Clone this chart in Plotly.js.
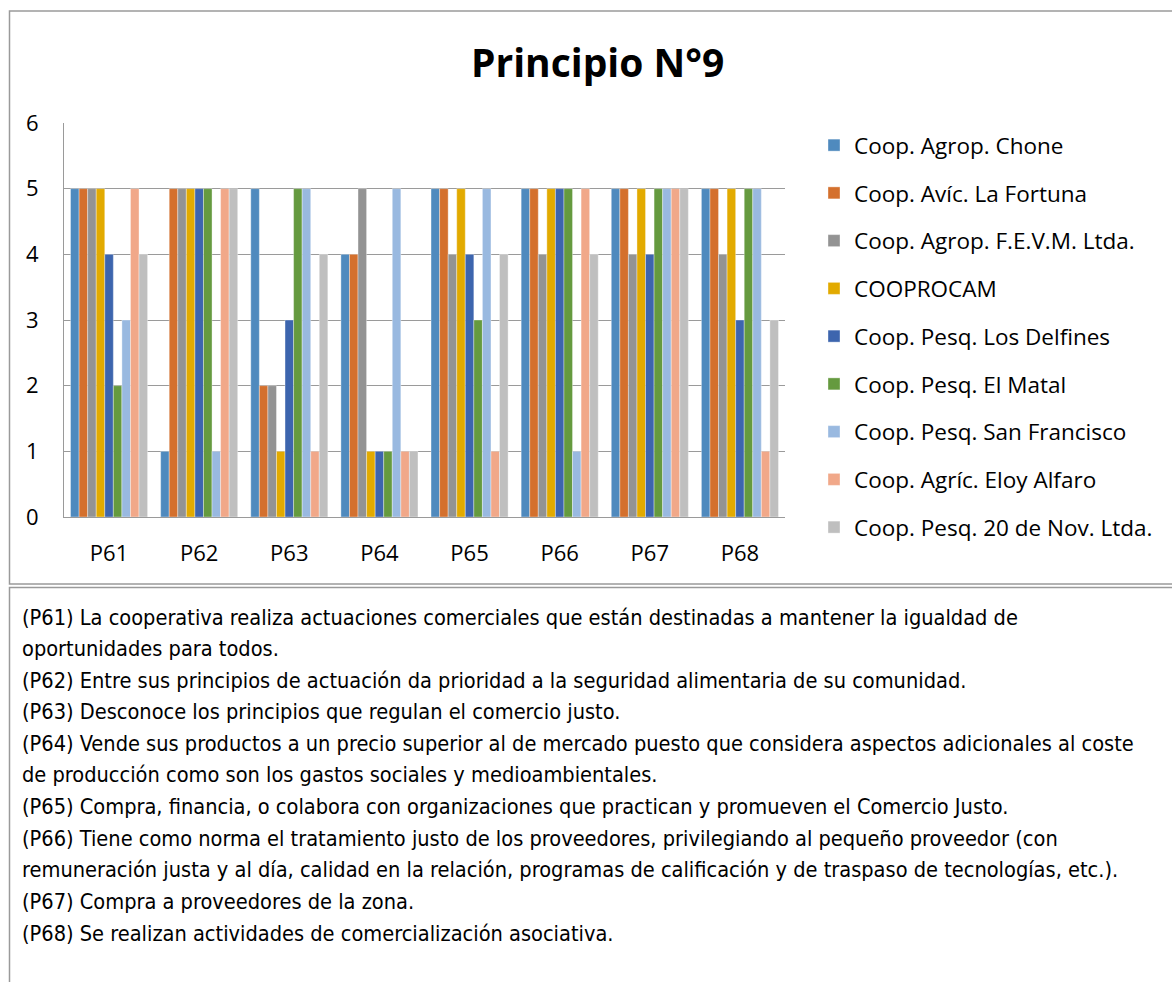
<!DOCTYPE html>
<html>
<head>
<meta charset="utf-8">
<script src="https://cdn.plot.ly/plotly-3.0.1.min.js"></script>
<style>
html,body{margin:0;padding:0;background:#fff;}
#chart{width:1172px;height:982px;}
</style>
</head>
<body>
<div id="chart"></div>
<script>
const categories = ["P61","P62","P63","P64","P65","P66","P67","P68"];
const seriesNames = [
  "Coop. Agrop. Chone",
  "Coop. Avíc. La Fortuna",
  "Coop. Agrop. F.E.V.M. Ltda.",
  "COOPROCAM",
  "Coop. Pesq. Los Delfines",
  "Coop. Pesq. El Matal",
  "Coop. Pesq. San Francisco",
  "Coop. Agríc. Eloy Alfaro",
  "Coop. Pesq. 20 de Nov. Ltda."
];
const chone      = [5,1,5,4,5,5,5,5];
const fortuna    = [5,5,2,4,5,5,5,5];
const fevm       = [5,5,2,5,4,4,4,4];
const cooprocam  = [5,5,1,1,5,5,5,5];
const delfines   = [4,5,3,1,4,5,4,3];
const matal      = [2,5,5,1,3,5,5,5];
const sanfran    = [3,1,5,5,5,1,5,5];
const eloy       = [5,5,1,1,1,5,5,1];
const nov20      = [4,5,4,1,4,4,5,3];
const seriesValues = [chone,fortuna,fevm,cooprocam,delfines,matal,sanfran,eloy,nov20];
const colors = ["#4f8abe","#d4702d","#939393","#e2aa00","#3d65ae","#659a3f","#99b9e0","#f1a889","#bfbfbf"];

const notes = [
  "(P61) La cooperativa realiza actuaciones comerciales que están destinadas a mantener la igualdad de",
  "oportunidades para todos.",
  "(P62) Entre sus principios de actuación da prioridad a la seguridad alimentaria de su comunidad.",
  "(P63) Desconoce los principios que regulan el comercio justo.",
  "(P64) Vende sus productos a un precio superior al de mercado puesto que considera aspectos adicionales al coste",
  "de producción como son los gastos sociales y medioambientales.",
  "(P65) Compra, financia, o colabora con organizaciones que practican y promueven el Comercio Justo.",
  "(P66) Tiene como norma el tratamiento justo de los proveedores, privilegiando al pequeño proveedor (con",
  "remuneración justa y al día, calidad en la relación, programas de calificación y de traspaso de tecnologías, etc.).",
  "(P67) Compra a proveedores de la zona.",
  "(P68) Se realizan actividades de comercialización asociativa."
];

// layout geometry (pixels)
const W = 1172, H = 982;
const L = 64, R = 785, T = 123, B = 517;
const px = x => (x - L) / (R - L);
const py = y => (B - y) / (B - T);

const traces = seriesNames.map((n, i) => ({
  type: "bar",
  name: n,
  x: categories,
  y: seriesValues[i],
  legendgroup: "g" + i,
  marker: {color: colors[i], line: {color: "rgba(255,255,255,0.6)", width: 0.6}},
  hoverinfo: "x+y+name"
}));

const annotations = [
  {text: "<b>Principio N°9</b>", xref: "paper", yref: "paper", x: px(597), y: py(62),
   xanchor: "center", yanchor: "middle", showarrow: false,
   font: {family: "Open Sans, sans-serif", size: 39, color: "#000"}}
];
const lineY0 = 617, lineStep = 31.6;
notes.forEach((t, i) => {
  annotations.push({
    text: t, xref: "paper", yref: "paper", x: px(20), y: py(lineY0 + i * lineStep),
    xanchor: "left", yanchor: "middle", showarrow: false, align: "left",
    font: {family: "DejaVu Sans Condensed, sans-serif", size: 21.6, color: "#000"}
  });
});

const shapes = [
  {type: "rect", xref: "paper", yref: "paper", x0: px(9.5), x1: px(1190), y0: py(11), y1: py(584),
   line: {color: "#9a9a9a", width: 1.5}},
  {type: "rect", xref: "paper", yref: "paper", x0: px(9.5), x1: px(1190), y0: py(587.5), y1: py(1000),
   line: {color: "#9a9a9a", width: 1.5}}
];

const layout = {
  width: W, height: H,
  margin: {l: L, r: W - R, t: T, b: H - B, pad: 0},
  paper_bgcolor: "#fff", plot_bgcolor: "#fff",
  barmode: "group", bargap: 0.145, bargroupgap: 0,
  font: {family: "Open Sans, sans-serif", color: "#000"},
  xaxis: {
    type: "category", showgrid: false, zeroline: false,
    showline: true, linecolor: "#9a9a9a", linewidth: 1, mirror: false,
    ticks: "", tickfont: {size: 22, family: "Open Sans, sans-serif"},
    ticklabelstandoff: 17
  },
  yaxis: {
    range: [0, 6], dtick: 1, showgrid: true, gridcolor: "#9a9a9a", gridwidth: 1,
    zeroline: false, showline: true, linecolor: "#9a9a9a", linewidth: 1,
    ticks: "", tickfont: {size: 22, family: "Open Sans, sans-serif"},
    ticklabelstandoff: 20, fixedrange: true
  },
  showlegend: true,
  legend: {
    x: px(814), y: py(124), xanchor: "left", yanchor: "top",
    traceorder: "grouped", tracegroupgap: 15.5, maxheight: 900,
    font: {size: 22.5, family: "Open Sans, sans-serif", color: "#000"},
    bgcolor: "rgba(0,0,0,0)", borderwidth: 0
  },
  annotations: annotations,
  shapes: shapes
};

Plotly.newPlot("chart", traces, layout, {displayModeBar: false, staticPlot: true});
</script>
</body>
</html>
